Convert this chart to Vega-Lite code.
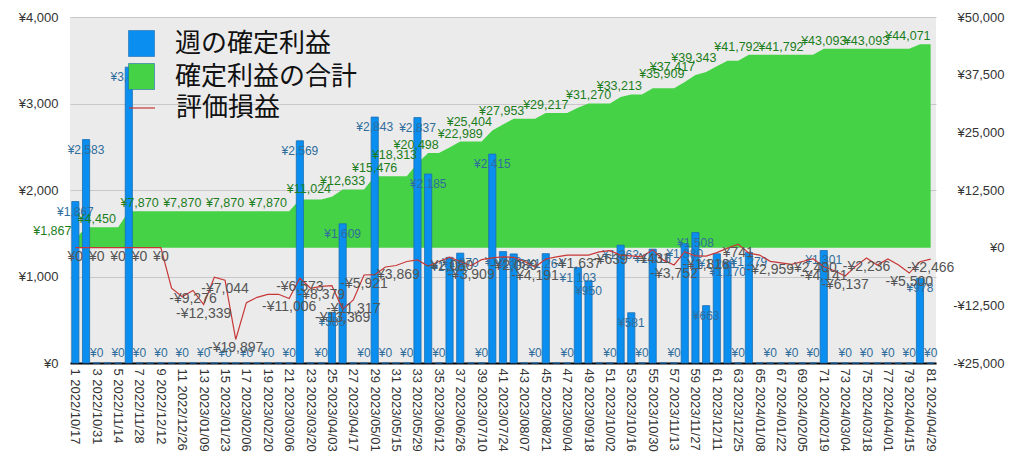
{
"$schema": "https://vega.github.io/schema/vega-lite/v6.json",
"width": 866, "height": 346,
"autosize": "none",
"padding": {"left": 70, "top": 17, "right": 88, "bottom": 107},
"config": {
  "view": {"fill": "#ebebeb", "stroke": null},
  "font": "Liberation Sans",
  "locale": {"number": {"decimal": ".", "thousands": ",", "grouping": [3], "currency": ["¥", ""], "minus": "-"}},
  "axis": {"labelFont": "Liberation Sans", "labelColor": "#333", "labelFontSize": 13}
},
"data": {"values": [
{"w":1,"x":"1 2022/10/17","p":1867,"c":1867,"u":0},
{"w":2,"x":"2 2022/10/24","p":2583,"c":4450,"u":0},
{"w":3,"x":"3 2022/10/31","p":0,"c":4450,"u":0},
{"w":4,"x":"4 2022/11/07","p":0,"c":4450,"u":0},
{"w":5,"x":"5 2022/11/14","p":0,"c":4450,"u":0},
{"w":6,"x":"6 2022/11/21","p":3420,"c":7870,"u":0},
{"w":7,"x":"7 2022/11/28","p":0,"c":7870,"u":0},
{"w":8,"x":"8 2022/12/05","p":0,"c":7870,"u":0},
{"w":9,"x":"9 2022/12/12","p":0,"c":7870,"u":0},
{"w":10,"x":"10 2022/12/19","p":0,"c":7870,"u":-8800},
{"w":11,"x":"11 2022/12/26","p":0,"c":7870,"u":-10620},
{"w":12,"x":"12 2023/01/02","p":0,"c":7870,"u":-9276},
{"w":13,"x":"13 2023/01/09","p":0,"c":7870,"u":-12339},
{"w":14,"x":"14 2023/01/16","p":0,"c":7870,"u":-6420},
{"w":15,"x":"15 2023/01/23","p":0,"c":7870,"u":-7044},
{"w":16,"x":"16 2023/01/30","p":0,"c":7870,"u":-19897},
{"w":17,"x":"17 2023/02/06","p":0,"c":7870,"u":-11920},
{"w":18,"x":"18 2023/02/13","p":0,"c":7870,"u":-10760},
{"w":19,"x":"19 2023/02/20","p":0,"c":7870,"u":-10110},
{"w":20,"x":"20 2023/02/27","p":0,"c":7870,"u":-10110},
{"w":21,"x":"21 2023/03/06","p":0,"c":7870,"u":-11006},
{"w":22,"x":"22 2023/03/13","p":2569,"c":10439,"u":-6573},
{"w":23,"x":"23 2023/03/20","p":0,"c":10439,"u":-8800},
{"w":24,"x":"24 2023/03/27","p":0,"c":10439,"u":-8379},
{"w":25,"x":"25 2023/04/03","p":585,"c":11024,"u":-8240},
{"w":26,"x":"26 2023/04/10","p":1609,"c":12633,"u":-13369},
{"w":27,"x":"27 2023/04/17","p":0,"c":12633,"u":-11317},
{"w":28,"x":"28 2023/04/24","p":0,"c":12633,"u":-5921},
{"w":29,"x":"29 2023/05/01","p":2843,"c":15476,"u":-5850},
{"w":30,"x":"30 2023/05/08","p":0,"c":15476,"u":-4180},
{"w":31,"x":"31 2023/05/15","p":0,"c":15476,"u":-3869},
{"w":32,"x":"32 2023/05/22","p":0,"c":15476,"u":-3000},
{"w":33,"x":"33 2023/05/29","p":2837,"c":18313,"u":-2650},
{"w":34,"x":"34 2023/06/05","p":2185,"c":20498,"u":-3970},
{"w":35,"x":"35 2023/06/12","p":0,"c":20498,"u":-3000},
{"w":36,"x":"36 2023/06/19","p":1221,"c":21719,"u":-2080},
{"w":37,"x":"37 2023/06/26","p":1270,"c":22989,"u":-3000},
{"w":38,"x":"38 2023/07/03","p":0,"c":22989,"u":-3909},
{"w":39,"x":"39 2023/07/10","p":0,"c":22989,"u":-2600},
{"w":40,"x":"40 2023/07/17","p":2415,"c":25404,"u":-2200},
{"w":41,"x":"41 2023/07/24","p":1288,"c":26692,"u":-2000},
{"w":42,"x":"42 2023/07/31","p":1261,"c":27953,"u":-2089},
{"w":43,"x":"43 2023/08/07","p":0,"c":27953,"u":-3000},
{"w":44,"x":"44 2023/08/14","p":0,"c":27953,"u":-4191},
{"w":45,"x":"45 2023/08/21","p":1264,"c":29217,"u":-2450},
{"w":46,"x":"46 2023/08/28","p":0,"c":29217,"u":-2000},
{"w":47,"x":"47 2023/09/04","p":0,"c":29217,"u":-1600},
{"w":48,"x":"48 2023/09/11","p":1103,"c":30320,"u":-1637},
{"w":49,"x":"49 2023/09/18","p":950,"c":31270,"u":-1600},
{"w":50,"x":"50 2023/09/25","p":0,"c":31270,"u":-900},
{"w":51,"x":"51 2023/10/02","p":0,"c":31270,"u":-639},
{"w":52,"x":"52 2023/10/09","p":1362,"c":32632,"u":-1600},
{"w":53,"x":"53 2023/10/16","p":581,"c":33213,"u":-1800},
{"w":54,"x":"54 2023/10/23","p":0,"c":33213,"u":-2000},
{"w":55,"x":"55 2023/10/30","p":1316,"c":34529,"u":-431},
{"w":56,"x":"56 2023/11/06","p":0,"c":34529,"u":-2700},
{"w":57,"x":"57 2023/11/13","p":0,"c":34529,"u":-3752},
{"w":58,"x":"58 2023/11/20","p":1380,"c":35909,"u":-870},
{"w":59,"x":"59 2023/11/27","p":1508,"c":37417,"u":-1800},
{"w":60,"x":"60 2023/12/04","p":663,"c":38080,"u":-1818},
{"w":61,"x":"61 2023/12/11","p":1263,"c":39343,"u":-1080},
{"w":62,"x":"62 2023/12/18","p":1170,"c":40513,"u":-100},
{"w":63,"x":"63 2023/12/25","p":0,"c":40513,"u":741},
{"w":64,"x":"64 2024/01/01","p":1279,"c":41792,"u":-1200},
{"w":65,"x":"65 2024/01/08","p":0,"c":41792,"u":-1600},
{"w":66,"x":"66 2024/01/15","p":0,"c":41792,"u":-2959},
{"w":67,"x":"67 2024/01/22","p":0,"c":41792,"u":-3300},
{"w":68,"x":"68 2024/01/29","p":0,"c":41792,"u":-3600},
{"w":69,"x":"69 2024/02/05","p":0,"c":41792,"u":-3000},
{"w":70,"x":"70 2024/02/12","p":0,"c":41792,"u":-2400},
{"w":71,"x":"71 2024/02/19","p":1301,"c":43093,"u":-4141},
{"w":72,"x":"72 2024/02/26","p":0,"c":43093,"u":-5000},
{"w":73,"x":"73 2024/03/04","p":0,"c":43093,"u":-6137},
{"w":74,"x":"74 2024/03/11","p":0,"c":43093,"u":-4000},
{"w":75,"x":"75 2024/03/18","p":0,"c":43093,"u":-2236},
{"w":76,"x":"76 2024/03/25","p":0,"c":43093,"u":-3750},
{"w":77,"x":"77 2024/04/01","p":0,"c":43093,"u":-2450},
{"w":78,"x":"78 2024/04/08","p":0,"c":43093,"u":-3750},
{"w":79,"x":"79 2024/04/15","p":0,"c":43093,"u":-5500},
{"w":80,"x":"80 2024/04/22","p":978,"c":44071,"u":-3040},
{"w":81,"x":"81 2024/04/29","p":0,"c":44071,"u":-2466}
]},
"encoding": {
  "x": {"field": "x", "type": "ordinal", "sort": null,
    "scale": {"paddingInner": 0.33, "paddingOuter": 0.165},
    "axis": {"title": null, "labelAngle": 90, "labelAlign": "left", "labelBaseline": "middle", "labelPadding": 5,
      "ticks": false, "domainColor": "#000", "domainWidth": 2,
      "labelExpr": "parseInt(datum.label) % 2 === 1 ? datum.label : ''"}}
},
"layer": [
  {
    "mark": {"type": "area", "opacity": 1},
    "encoding": {
      "y": {"field": "c", "type": "quantitative", "scale": {"domain": [-25000, 50000], "nice": false, "zero": false},
        "axis": {"orient": "right", "title": null, "values": [-25000, -12500, 0, 12500, 25000, 37500, 50000], "format": "$,d",
          "grid": false, "domain": false, "ticks": false, "labelAlign": "right", "labelPadding": 68}},
      "y2": {"datum": 0},
      "fill": {"datum": "確定利益の合計", "type": "nominal",
        "scale": {"domain": ["週の確定利益", "確定利益の合計"], "range": ["#0a8ff0", "#46d246"]}}
    }
  },
  {
    "encoding": {
      "y": {"field": "p", "type": "quantitative", "scale": {"domain": [0, 4000], "nice": false},
        "axis": {"orient": "left", "title": null, "values": [0, 1000, 2000, 3000, 4000], "format": "$,d",
          "grid": true, "gridColor": "#c8c8c8", "domain": false, "ticks": false, "labelPadding": 12}}
    },
    "layer": [
      {"mark": {"type": "bar", "stroke": "#1c6db0", "strokeWidth": 0.8},
       "encoding": {"fill": {"datum": "週の確定利益", "type": "nominal",
         "scale": {"domain": ["週の確定利益", "確定利益の合計"], "range": ["#0a8ff0", "#46d246"]},
         "legend": {"orient": "none", "legendX": 58, "legendY": 13, "title": null, "padding": 0, "zindex": 0,
           "labelFont": "Noto Sans CJK JP", "labelFontSize": 26, "labelColor": "#111", "labelLimit": 400,
           "symbolSize": 676, "symbolType": "square", "labelOffset": 20, "rowPadding": 4,
           "symbolStrokeWidth": 0.6, "symbolStrokeColor": "#1c6db0", "symbolOpacity": 1}}}},
      {"mark": {"type": "text", "baseline": "middle", "dy": 10, "fontSize": 12, "color": "#2f6d9c"},
       "encoding": {"text": {"condition": {"test": "datum.p > 0", "field": "p", "type": "quantitative", "format": "$,d"}, "value": ""}}},
      {"mark": {"type": "text", "baseline": "middle", "dy": -10, "fontSize": 12, "color": "#2f6d9c"},
       "encoding": {"text": {"condition": {"test": "datum.p === 0 && indexof([3,5,7,9,11,13,15,17,19,21,24,28,30,32,35,39,44,47,51,54,57,63,66,68,70,73,75,77,79,81], datum.w) >= 0", "field": "p", "type": "quantitative", "format": "$,d"}, "value": ""}}}
    ]
  },
  {
    "encoding": {
      "y": {"type": "quantitative", "scale": {"domain": [-25000, 50000], "nice": false, "zero": false}, "axis": null}
    },
    "layer": [
      {"mark": {"type": "line", "strokeWidth": 1.2},
       "encoding": {"y": {"field": "u", "type": "quantitative", "scale": {"domain": [-25000, 50000], "nice": false, "zero": false}, "axis": null},
         "stroke": {"datum": "評価損益", "type": "nominal",
           "scale": {"domain": ["評価損益"], "range": ["#c83737"]},
           "legend": {"orient": "none", "legendX": 58, "legendY": 77, "title": null, "padding": 0, "zindex": 0,
             "labelFont": "Noto Sans CJK JP", "labelFontSize": 26, "labelColor": "#111", "labelLimit": 400,
             "symbolSize": 676, "symbolType": "stroke", "symbolStrokeWidth": 1.2, "labelOffset": 20}}}},
      {"mark": {"type": "text", "baseline": "middle", "dy": 9, "fontSize": 14, "color": "#555"},
       "encoding": {"y": {"field": "u", "type": "quantitative", "scale": {"domain": [-25000, 50000], "nice": false, "zero": false}, "axis": null},
         "text": {"condition": {"test": "indexof([1,3,5,7,9,12,13,15,16,21,22,24,26,27,28,31,36,38,42,44,48,51,55,57,60,63,66,70,71,73,75,79,81], datum.w) >= 0", "field": "u", "type": "quantitative", "format": "$,d"}, "value": ""}}},
      {"mark": {"type": "text", "baseline": "middle", "dy": -8, "fontSize": 12.5, "color": "#1b7d1b"},
       "encoding": {"y": {"field": "c", "type": "quantitative", "scale": {"domain": [-25000, 50000], "nice": false, "zero": false}, "axis": null},
         "text": {"condition": {"test": "indexof([3,7,11,15,19,26,29,37,45,49,67,71,75], datum.w) >= 0", "field": "c", "type": "quantitative", "format": "$,d"}, "value": ""}}},
      {"mark": {"type": "text", "baseline": "middle", "dy": -8, "dx": -12, "fontSize": 12.5, "color": "#1b7d1b"},
       "encoding": {"y": {"field": "c", "type": "quantitative", "scale": {"domain": [-25000, 50000], "nice": false, "zero": false}, "axis": null},
         "text": {"condition": {"test": "indexof([34,42,53,64,80], datum.w) >= 0", "field": "c", "type": "quantitative", "format": "$,d"}, "value": ""}}},
      {"mark": {"type": "text", "baseline": "middle", "dy": -8, "dx": -23, "fontSize": 12.5, "color": "#1b7d1b"},
       "encoding": {"y": {"field": "c", "type": "quantitative", "scale": {"domain": [-25000, 50000], "nice": false, "zero": false}, "axis": null},
         "text": {"condition": {"test": "indexof([1,25,33,40,58,59,61], datum.w) >= 0", "field": "c", "type": "quantitative", "format": "$,d"}, "value": ""}}}
    ]
  }
],
"resolve": {"scale": {"y": "independent"}}
}
